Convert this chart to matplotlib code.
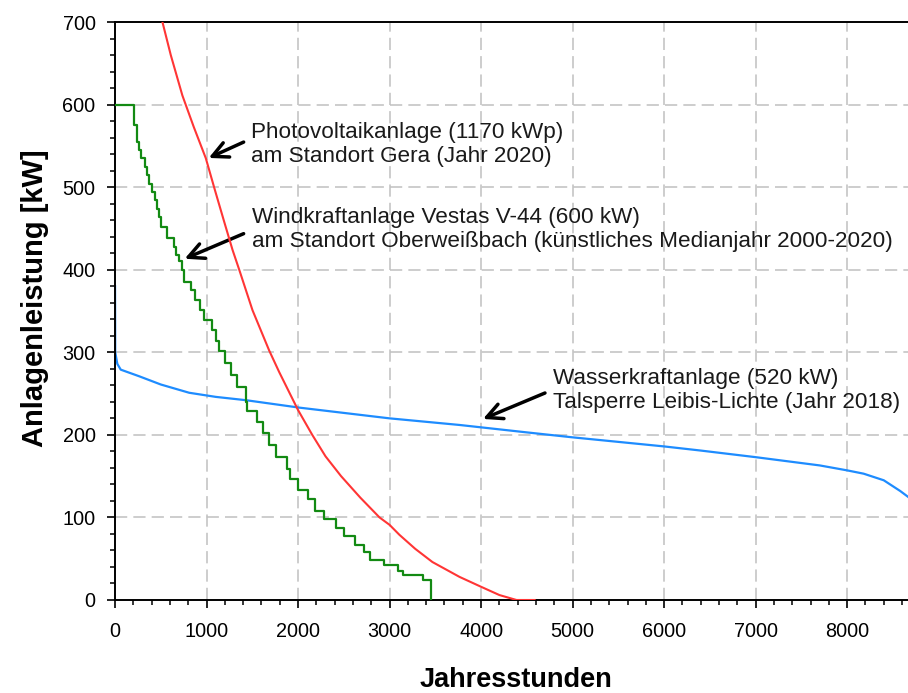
import numpy as np
import matplotlib
matplotlib.use("Agg")
import matplotlib.pyplot as plt
from matplotlib.ticker import MultipleLocator

plt.rcParams['font.family'] = ['Liberation Sans', 'DejaVu Sans']

# PV plant Gera (sorted annual duration curve)
pv_hours = [0, 300, 518, 609, 736, 860, 992, 1090, 1193, 1284, 1357, 1502, 1685, 1794,
            2000, 2155, 2300, 2470, 2680, 2890, 3000, 3107, 3280, 3468, 3764, 4000,
            4200, 4387, 4585]
pv_kw = [1000, 800, 700, 660, 611, 573, 535, 497, 458, 424, 400, 351, 302, 276,
         230, 200, 174, 150, 124, 100, 91, 79, 62, 46, 28, 16,
         6, 0, 0]

# wind turbine Vestas V-44, step levels and the hour where each level ends
wind_ends = [208, 237, 263, 288, 325, 347, 372, 408, 434, 463,
             481, 507, 572, 646, 671, 700, 727, 755, 828, 875,
             927, 974, 1058, 1107, 1138, 1204, 1266, 1338, 1430, 1446,
             1546, 1614, 1677, 1758, 1879, 1912, 1995, 2104, 2185, 2287,
             2415, 2505, 2623, 2717, 2787, 2943, 3089, 3143, 3370, 3454]
wind_levels = [600, 575, 555, 545, 535, 525, 515, 504, 494, 484,
               474, 464, 452, 438, 428, 418, 410, 400, 385, 375,
               363, 351, 339, 327, 314, 301, 287, 272, 258, 240,
               229, 215, 202, 188, 173, 159, 146, 133, 122, 108,
               98, 87, 77, 67, 58, 48, 42, 35, 30, 24]

# hydro plant Leibis-Lichte
hydro_hours = [0, 2, 25, 62, 263, 500, 810, 1101, 1430, 2013, 3000, 3764, 4500,
               5000, 6000, 6400, 7000, 7700, 8000, 8180, 8400, 8580, 8665, 8760]
hydro_kw = [380, 300, 286, 279, 271, 261, 251, 246, 242, 233, 220, 212, 203,
            197, 186, 181, 173, 163, 157, 153, 145, 132, 125, 116]

x_ticks = [0, 1000, 2000, 3000, 4000, 5000, 6000, 7000, 8000]
y_ticks = [0, 100, 200, 300, 400, 500, 600, 700]

fig = plt.figure(figsize=(9.08, 6.93), dpi=100)
ax = fig.add_axes([0.1267, 0.1342, 0.8733, 0.834])

#grid first so curves sit on top
for xv in x_ticks[1:]:
    ax.axvline(xv, color='#c0c0c0', lw=1.1, dashes=(8, 4), zorder=0)
for yv in y_ticks[1:-1]:
    ax.axhline(yv, color='#c0c0c0', lw=1.1, dashes=(8, 4), zorder=0)

ax.plot(hydro_hours, hydro_kw, color='#1e8cff', lw=1.6, zorder=2)
ax.step([0] + wind_ends, wind_levels + [0], where='post', color='#138a13', lw=1.6, zorder=3)
ax.plot(pv_hours, pv_kw, color='#ff3535', lw=1.5, zorder=4)

ax.set_xlim(0, 8665)
ax.set_ylim(0, 700)
ax.set_xticks(x_ticks)
ax.set_yticks(y_ticks)
ax.xaxis.set_minor_locator(MultipleLocator(200))
ax.yaxis.set_minor_locator(MultipleLocator(20))
ax.tick_params(which='major', length=6, width=1.2, labelsize=14.3, direction='out')
ax.tick_params(which='minor', length=3.8, width=1.1, direction='out')
ax.tick_params(axis='x', which='major', pad=10)
ax.tick_params(axis='y', which='major', pad=8)
ax.spines['right'].set_visible(False)
for s in ['left', 'bottom', 'top']:
    ax.spines[s].set_linewidth(1.4)

fig.text(35 / 908, 1 - 298 / 693, 'Anlagenleistung [kW]', rotation=90,
         ha='center', va='center', fontsize=21, fontweight='bold')
fig.text(516 / 908, 1 - 680 / 693, 'Jahresstunden',
         ha='center', va='center', fontsize=19.5, fontweight='bold')

# annotations
txt_color = '#1a1a1a'
ax.text(1488, 552, 'Photovoltaikanlage (1170 kWp)\nam Standort Gera (Jahr 2020)',
        ha='left', va='center', fontsize=16.2, color=txt_color, linespacing=1.2)
ax.text(1499, 449, 'Windkraftanlage Vestas V-44 (600 kW)\n'
        'am Standort Oberweißbach (künstliches Medianjahr 2000-2020)',
        ha='left', va='center', fontsize=16.2, color=txt_color, linespacing=1.2)
ax.text(4781, 254, 'Wasserkraftanlage (520 kW)\nTalsperre Leibis-Lichte (Jahr 2018)',
        ha='left', va='center', fontsize=16.2, color=txt_color, linespacing=1.2)

arrow = dict(arrowstyle='->', lw=2.5, color='black', mutation_scale=28)
ax.annotate('', xy=(996, 534), xytext=(1433, 556), arrowprops=arrow)
ax.annotate('', xy=(733, 412), xytext=(1433, 445), arrowprops=arrow)
ax.annotate('', xy=(3993, 218), xytext=(4726, 252), arrowprops=arrow)

fig.savefig('out.png', dpi=100)
